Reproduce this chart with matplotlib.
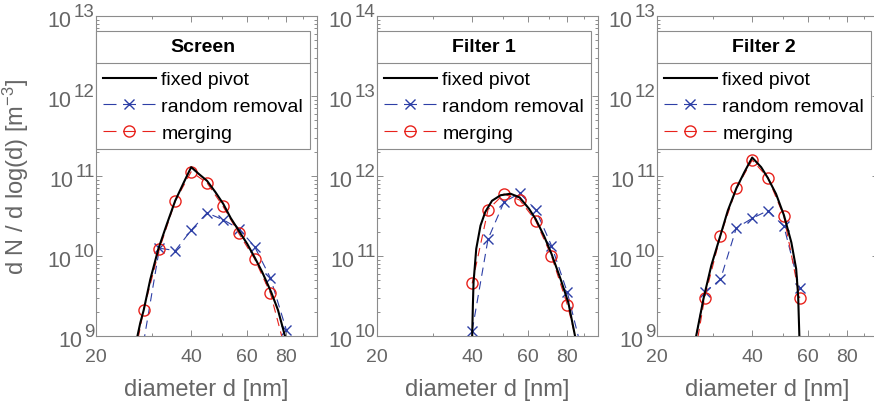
import math
import matplotlib
matplotlib.use("Agg")
import matplotlib.pyplot as plt
from matplotlib.ticker import FixedLocator, NullFormatter, LogLocator, FixedFormatter
from matplotlib.lines import Line2D

plt.rcParams['font.family'] = ['Liberation Sans', 'DejaVu Sans']
plt.rcParams['mathtext.fontset'] = 'custom'
plt.rcParams['mathtext.rm'] = 'Liberation Sans'
plt.rcParams['mathtext.it'] = 'Liberation Sans:italic'
plt.rcParams['mathtext.bf'] = 'Liberation Sans:bold'
plt.rcParams['lines.scale_dashes'] = False

# ---------------- data ----------------
titles = ["Screen", "Filter 1", "Filter 2"]
series_names = ["fixed pivot", "random removal", "merging"]
ylims = [(1e9, 1e13), (1e10, 1e14), (1e9, 1e13)]
x_ticks = [20, 40, 60, 80]
x_tick_labels = ["20", "40", "60", "80"]
x_minor_ticks = [30, 50, 70, 90]

# Screen
screen_fixed_d = [26.5, 27.05, 27.6, 28.3, 29.7, 31.5, 33.5, 35.6, 37.9, 40.0, 42.3, 44.9,
                  47.7, 50.5, 53.3, 56.9, 60.2, 63.6, 67.1, 71.7, 75.3, 79.2, 80.5]
screen_fixed_v = [6.3e8, 1.0e9, 1.45e9, 2.1e9, 5.1e9, 1.23e10, 2.5e10, 4.9e10, 8.3e10, 1.29e11,
                  1.06e11, 8.7e10, 6.3e10, 4.5e10, 3.0e10, 2.0e10, 1.41e10, 9.5e9, 6.3e9,
                  3.5e9, 2.1e9, 1.0e9, 6.3e8]
screen_random_d = [28.28, 31.75, 35.64, 40.0, 44.9, 50.4, 56.57, 63.5, 71.27, 80.0]
screen_random_v = [8.3e8, 1.25e10, 1.17e10, 2.1e10, 3.45e10, 2.85e10, 2.2e10, 1.31e10, 5.3e9, 1.19e9]
screen_merge_d = [25.2, 28.28, 31.75, 35.64, 40.0, 44.9, 50.4, 56.57, 63.5, 71.27, 80.0]
screen_merge_v = [2e8, 2.1e9, 1.23e10, 4.9e10, 1.13e11, 8.2e10, 4.2e10, 1.92e10, 9.2e9, 3.4e9, 6e8]

# Filter 1
filter1_fixed_d = [39.9, 40.0, 40.2, 40.4, 41.2, 42.5, 44.0, 46.2, 49.2, 52.9, 56.5, 60.5,
                   63.5, 67.5, 71.3, 76.2, 80.6, 84.6, 86.5]
filter1_fixed_v = [1e9, 1.0e10, 2.4e10, 4.7e10, 1.23e11, 2.4e11, 3.55e11, 4.9e11, 5.75e11,
                   6.0e11, 5.4e11, 3.9e11, 2.9e11, 1.78e11, 1.06e11, 5.1e10, 2.6e10, 1.0e10, 6e9]
filter1_random_d = [40.0, 44.9, 50.4, 56.57, 63.5, 71.27, 80.0, 89.8]
filter1_random_v = [1.17e10, 1.63e11, 4.7e11, 6.1e11, 3.8e11, 1.35e11, 3.5e10, 5.6e9]
filter1_merge_d = [40.0, 44.9, 50.4, 56.57, 63.5, 71.27, 80.0, 89.8]
filter1_merge_v = [4.55e10, 3.8e11, 5.96e11, 5.0e11, 2.77e11, 1.0e11, 2.46e10, 4e9]

# Filter 2
filter2_fixed_d = [26.1, 26.6, 28.1, 29.7, 31.7, 33.5, 35.7, 37.8, 40.0, 42.7, 44.8, 47.6,
                   50.4, 53.2, 55.1, 55.9, 56.4, 56.6]
filter2_fixed_v = [5.6e8, 1.0e9, 3.0e9, 7.6e9, 1.78e10, 3.7e10, 7.1e10, 1.12e11, 1.7e11,
                   1.29e11, 9.5e10, 5.96e10, 3.24e10, 1.48e10, 6.9e9, 3.2e9, 1.0e9, 3.2e8]
filter2_random_d = [25.2, 28.28, 31.75, 35.64, 40.0, 44.9, 50.4, 56.57]
filter2_random_v = [3.3e8, 3.5e9, 5.1e9, 2.24e10, 2.96e10, 3.7e10, 2.35e10, 3.95e9]
filter2_merge_d = [25.2, 28.28, 31.75, 35.64, 40.0, 44.9, 50.4, 56.57]
filter2_merge_v = [2e8, 2.99e9, 1.8e10, 7.0e10, 1.58e11, 9.5e10, 3.13e10, 2.99e9]

panels = [
    (screen_fixed_d, screen_fixed_v, screen_random_d, screen_random_v, screen_merge_d, screen_merge_v),
    (filter1_fixed_d, filter1_fixed_v, filter1_random_d, filter1_random_v, filter1_merge_d, filter1_merge_v),
    (filter2_fixed_d, filter2_fixed_v, filter2_random_d, filter2_random_v, filter2_merge_d, filter2_merge_v),
]

# ---------------- styling ----------------
W, H = 874, 406
fig = plt.figure(figsize=(W / 100, H / 100), dpi=100)
gray_txt = '#666666'
gray_ax = '#8c8c8c'
blue = '#2d3fa6'
red = '#e8221c'

lefts = [96, 377, 657]
ax_w, ax_top, ax_bot = 221, 17, 337

rand_style = dict(color=blue, lw=0.8, marker='x', markersize=7, mew=1.0)
merge_style = dict(color=red, lw=0.8, marker='o', markersize=8, mew=1.0, markerfacecolor='none')

axes = []
legends = []
for i, (title, data, ylim) in enumerate(zip(titles, panels, ylims)):
    fd, fv, rd, rv, md, mv = data
    ax = fig.add_axes([lefts[i] / W, (H - ax_bot) / H, ax_w / W, (ax_bot - ax_top) / H])
    ax.set_xscale('log')
    ax.set_yscale('log')
    ax.plot(rd, rv, linestyle=(0, (6, 4)), zorder=2, **rand_style)
    ax.plot(md, mv, linestyle=(0, (6, 4)), zorder=2, **merge_style)
    hf, = ax.plot(fd, fv, color='black', lw=1.5, zorder=3)
    ax.set_xlim(20, 100)
    ax.set_ylim(*ylim)

    ax.xaxis.set_major_locator(FixedLocator(x_ticks))
    ax.xaxis.set_major_formatter(FixedFormatter(x_tick_labels))
    ax.xaxis.set_minor_locator(FixedLocator(x_minor_ticks))
    ax.xaxis.set_minor_formatter(NullFormatter())
    ax.yaxis.set_major_locator(LogLocator(base=10, numticks=10))
    ax.yaxis.set_minor_locator(LogLocator(base=10, subs=range(2, 10), numticks=20))
    ax.yaxis.set_minor_formatter(NullFormatter())

    for sp in ax.spines.values():
        sp.set_color(gray_ax)
        sp.set_linewidth(0.8)
    ax.tick_params(which='both', direction='in', top=True, right=True, color=gray_ax,
                   labelcolor=gray_txt, labelsize=14, width=0.7)
    ax.tick_params(which='major', length=4)
    ax.tick_params(which='minor', length=2.2)
    ax.tick_params(axis='x', which='major', pad=9)
    ax.tick_params(axis='y', which='both', labelleft=False)

    # y tick labels: base "10" with a large exponent
    n0, n1 = int(round(math.log10(ylim[0]))), int(round(math.log10(ylim[1])))
    for n in range(n0, n1 + 1):
        e = ax.annotate(str(n), xy=(0, 10.0 ** n), xycoords=ax.get_yaxis_transform(),
                        xytext=(-1.0, -3.2), textcoords='offset points', ha='right',
                        va='bottom', fontsize=13.5, color=gray_txt, annotation_clip=False)
        ax.annotate("10", xy=(0, 0), xycoords=e, xytext=(-1.5, -7.6),
                    textcoords='offset points', ha='right', va='bottom', fontsize=15.5,
                    color=gray_txt, annotation_clip=False)

    ax.set_xlabel("diameter d [nm]", fontsize=17, color=gray_txt, va='top')
    ax.xaxis.set_label_coords(0.5, -0.132)
    if i == 0:
        ax.set_ylabel("d N / d log(d) [m$^{-3}$]", fontsize=17, color=gray_txt)
        ax.yaxis.set_label_coords(-0.294, 0.5)

    # legend proxies: three dashes, the middle one through the marker
    pr = Line2D([], [], linestyle=(0, (9.36, 4.68)), **rand_style)
    pm = Line2D([], [], linestyle=(0, (9.36, 4.68)), **merge_style)
    leg = ax.legend([hf, pr, pm], series_names, title=title, loc='upper left',
                    bbox_to_anchor=(0, 1 - 15 / 320), borderaxespad=0, frameon=True,
                    fancybox=False, framealpha=1, edgecolor=gray_ax, fontsize=14,
                    title_fontproperties={'weight': 'bold', 'size': 14},
                    handlelength=2.7, handletextpad=0.3, labelspacing=0.47, borderpad=0.36)
    leg.get_frame().set_linewidth(0.8)
    leg._legend_box.sep = 11.4
    axes.append(ax)
    legends.append(leg)

fig.canvas.draw()
renderer = fig.canvas.get_renderer()
for leg in legends:
    fb = leg.get_frame().get_window_extent(renderer)
    tb = leg.get_title().get_window_extent(renderer)
    eb = leg.get_texts()[0].get_window_extent(renderer)
    ysep = (tb.y0 + eb.y1) / 2
    fig.add_artist(Line2D([fb.x0 / W, fb.x1 / W], [ysep / H, ysep / H],
                          transform=fig.transFigure, color=gray_ax, lw=0.8, zorder=10))

fig.savefig("out.png", dpi=100)
